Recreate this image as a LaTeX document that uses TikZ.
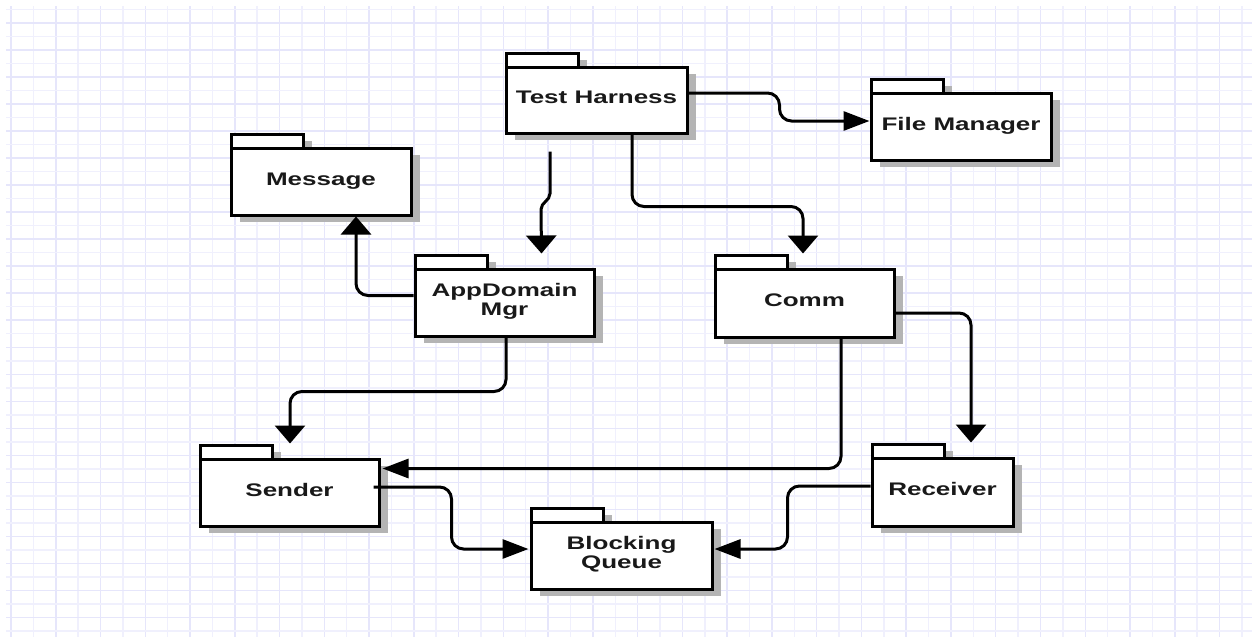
\documentclass[tikz,border=0pt]{standalone}
\usepackage{fontspec}
\setmainfont{Liberation Sans}
\usetikzlibrary{arrows.meta,calc}

\definecolor{gridminor}{RGB}{240,240,253}
\definecolor{gridmajor}{RGB}{230,230,251}
\definecolor{shadowgray}{RGB}{180,180,180}

% label text is set wide and flattened vertically
\newcommand\pkglabel[1]{\scalebox{1}[0.7]{\begin{tabular}{@{}c@{}}#1\end{tabular}}}

% UML package: name, left, body top, right, bottom, label
\newcommand\umlpackage[6]{%
  \fill[shadowgray] ({#2+9},{#3-14+7}) rectangle ({#2+72+9},{#3+7});
  \fill[shadowgray] ({#2+9},{#3+7}) rectangle ({#4+9},{#5+7});
  \draw[pkgline,fill=white] (#2,{#3-14}) rectangle ({#2+72},#3);
  \node[pkgbody,minimum width={#4-#2},minimum height={#5-#3}]
    (#1) at ({(#2+#4)/2},{(#3+#5)/2}) {\pkglabel{#6}};
}

\tikzset{
  pkgline/.style={line width=3pt,draw=black},
  pkgbody/.style={pkgline,fill=white,rectangle,inner sep=0pt,
    font=\fontsize{26}{27}\selectfont\bfseries,text=black!90},
  conn/.style={line width=3pt,rounded corners=12pt,black},
  harrow/.style={-{Triangle[length=26pt,width=19pt]}},
  varrow/.style={-{Triangle[length=18pt,width=30pt]}},
}

\begin{document}
\begin{tikzpicture}[x=1pt,y=-1pt]
\useasboundingbox (0,0) rectangle (1252,637);
\fill[white] (0,0) rectangle (1252,637);

% background grid
\foreach \k in {1,3,...,55}
  \draw[gridminor,line width=1.5pt] ({11+22.38*\k},6) -- ({11+22.38*\k},637);
\foreach \k in {0,2,...,54}
  \draw[gridmajor,line width=1.5pt] ({11+22.38*\k},6) -- ({11+22.38*\k},637);
\foreach \k in {0,2,...,46}
  \draw[gridminor,line width=1.5pt] (6,{9.5+13.51*\k}) -- (1252,{9.5+13.51*\k});
\foreach \k in {1,3,...,45}
  \draw[gridmajor,line width=1.5pt] (6,{9.5+13.51*\k}) -- (1252,{9.5+13.51*\k});

% packages
\umlpackage{th}{506}{67}{687}{133}{Test Harness}
\umlpackage{fm}{871}{93}{1051}{160}{File Manager}
\umlpackage{msg}{231}{148}{411}{215}{Message}
\umlpackage{adm}{415}{269}{594}{336}{AppDomain\\Mgr}
\umlpackage{comm}{715}{269}{894}{337}{Comm}
\umlpackage{snd}{200}{459}{379}{526}{Sender}
\umlpackage{rcv}{872}{458}{1013}{526}{Receiver}
\umlpackage{bq}{531}{522}{712}{589}{Blocking\\Queue}

% free ends of two connectors
\coordinate (thtap) at ($(th.south)+(-46.5,17)$);
\coordinate (sndtap) at ($(snd.east)+(-7,-5.5)$);

% connectors
\draw[conn,harrow] ($(th.east)+(0,-7)$) -- ++(91,0) |- ($(fm.west)+(0,-5.5)$);
\draw[conn,varrow,sharp corners] (thtap) -- ++(0,42) to[out=-90,in=90] ++(-9,16)
  -- ($(adm.north)+(37,-14)$);
\draw[conn,varrow] ($(th.south)+(35.5,0)$) -- ++(0,72) -| ($(comm.north)+(-1.5,-14)$);
\draw[conn,varrow] ($(adm.west)+(0,-7)$) -| ($(msg.south)+(35,0)$);
\draw[conn,varrow] ($(adm.south)+(1.5,0)$) -- ++(0,54) -| ($(snd.north)+(0.5,-14)$);
\draw[conn,harrow] ($(comm.south)+(36.5,0)$) |- ($(snd.east)+(2,-24)$);
\draw[conn,varrow] ($(comm.east)+(0,10)$) -| ($(rcv.north)+(28.5,-14)$);
\draw[conn,harrow] (sndtap) -- ++(78,0) |- ($(bq.west)+(-1,-6.5)$);
\draw[conn,harrow] ($(rcv.west)+(0,-6)$) -- ++(-83,0) |- ($(bq.east)+(1,-6.5)$);
\end{tikzpicture}
\end{document}
